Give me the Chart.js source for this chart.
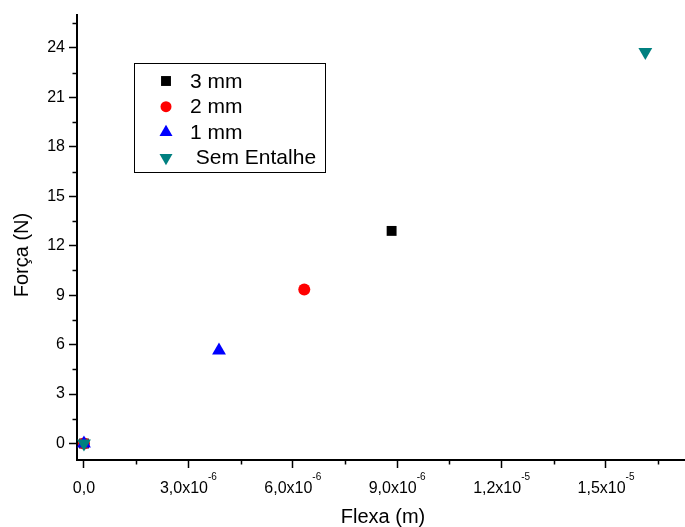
<!DOCTYPE html>
<html><head><meta charset="utf-8">
<script src="https://cdn.jsdelivr.net/npm/chart.js@4"></script>
<style>html,body{margin:0;padding:0;background:#fff;overflow:hidden}</style>
</head><body>
<canvas id="c" width="685" height="527"></canvas>
<script>
// ---- data ----
const seriesNames = ['3 mm', '2 mm', '1 mm', ' Sem Entalhe'];
const flexa3mm = [0, 8.84e-6];
const forca3mm = [0, 12.9];
const flexa2mm = [0, 6.33e-6];
const forca2mm = [0, 9.35];
const flexa1mm = [0, 3.88e-6];
const forca1mm = [0, 5.65];
const flexaSem = [0, 16.13e-6];
const forcaSem = [0, 23.75];
const xTickValues = [0, 3e-6, 6e-6, 9e-6, 1.2e-5, 1.5e-5];
const xTickLabels = ['0,0', '3,0x10', '6,0x10', '9,0x10', '1,2x10', '1,5x10'];
const xTickExponents = ['', '-6', '-6', '-6', '-5', '-5'];
const xMinorTicks = [1.5e-6, 4.5e-6, 7.5e-6, 1.05e-5, 1.35e-5, 1.65e-5];
const yTickValues = [0, 3, 6, 9, 12, 15, 18, 21, 24];
const yTickLabels = ['0', '3', '6', '9', '12', '15', '18', '21', '24'];
const yMinorTicks = [1.5, 4.5, 7.5, 10.5, 13.5, 16.5, 19.5, 22.5, 25.5];
const xTitle = 'Flexa (m)';
const yTitle = 'Força (N)';

const FONT = '"Liberation Sans", Arial, Helvetica, sans-serif';
Chart.defaults.font.family = FONT;
Chart.defaults.color = '#000';

function pts(xs, ys) { return xs.map((x, i) => ({ x: x, y: ys[i] })); }

const styles = [
  { color: '#000000', pointStyle: 'rect', radius: 7, rotation: 0, legendRadius: 7 },
  { color: '#FF0000', pointStyle: 'circle', radius: 6, rotation: 0, legendRadius: 5.5 },
  { color: '#0000FF', pointStyle: 'triangle', radius: 8, rotation: 0, legendRadius: 7.5 },
  { color: '#008080', pointStyle: 'triangle', radius: 8, rotation: 180, legendRadius: 7.5 }
];
const seriesData = [pts(flexa3mm, forca3mm), pts(flexa2mm, forca2mm), pts(flexa1mm, forca1mm), pts(flexaSem, forcaSem)];

const datasets = seriesData.map((d, i) => ({
  label: seriesNames[i],
  data: d,
  showLine: false,
  pointStyle: styles[i].pointStyle,
  pointRadius: styles[i].radius,
  pointRotation: styles[i].rotation,
  pointBackgroundColor: styles[i].color,
  pointBorderColor: styles[i].color,
  pointBorderWidth: 0,
  pointHoverRadius: styles[i].radius,
  backgroundColor: styles[i].color,
  borderColor: styles[i].color,
  clip: false,
  order: 3 - i
}));

const extras = {
  id: 'extras',
  afterDraw(chart) {
    const ctx = chart.ctx;
    const xs = chart.scales.x, ys = chart.scales.y;
    const ca = chart.chartArea;
    ctx.save();
    // minor ticks
    ctx.strokeStyle = '#000';
    ctx.lineWidth = 1.5;
    ctx.beginPath();
    yMinorTicks.forEach(v => {
      const p = Math.round(ys.getPixelForValue(v)) + 0.5;
      ctx.moveTo(ca.left - 4.5, p); ctx.lineTo(ca.left, p);
    });
    xMinorTicks.forEach(v => {
      const p = Math.round(xs.getPixelForValue(v)) + 0.5;
      ctx.moveTo(p, ca.bottom); ctx.lineTo(p, ca.bottom + 4.5);
    });
    ctx.stroke();
    // x tick labels with raised exponents
    ctx.fillStyle = '#000';
    ctx.textBaseline = 'alphabetic';
    ctx.textAlign = 'left';
    xTickValues.forEach((v, i) => {
      const px = xs.getPixelForValue(v);
      ctx.font = '16px ' + FONT;
      const wm = ctx.measureText(xTickLabels[i]).width;
      ctx.font = '10px ' + FONT;
      const we = xTickExponents[i] ? ctx.measureText(xTickExponents[i]).width : 0;
      const x0 = px - (wm + we) / 2;
      ctx.font = '16px ' + FONT;
      ctx.fillText(xTickLabels[i], x0, 493);
      if (xTickExponents[i]) {
        ctx.font = '10px ' + FONT;
        ctx.fillText(xTickExponents[i], x0 + wm, 480);
      }
    });
    // axis titles
    ctx.font = '20px ' + FONT;
    ctx.textAlign = 'center';
    ctx.textBaseline = 'middle';
    ctx.fillText(xTitle, 383, 517);
    ctx.translate(22, 255);
    ctx.rotate(-Math.PI / 2);
    ctx.fillText(yTitle, 0, 0);
    ctx.restore();

    // legend box
    ctx.save();
    ctx.strokeStyle = '#000';
    ctx.lineWidth = 1;
    ctx.strokeRect(134.5, 63.5, 191, 109);
    const rowsY = [81, 106.7, 132.3, 157.7];
    ctx.font = '21px ' + FONT;
    ctx.textAlign = 'left';
    ctx.textBaseline = 'middle';
    chart.data.datasets.forEach((ds, i) => {
      ctx.fillStyle = styles[i].color;
      ctx.strokeStyle = styles[i].color;
      Chart.helpers.drawPoint(ctx, { pointStyle: styles[i].pointStyle, radius: styles[i].legendRadius, rotation: styles[i].rotation, borderWidth: 0 }, 166, rowsY[i]);
      ctx.fillStyle = '#000';
      ctx.fillText(ds.label, 190, rowsY[i] + 1);
    });
    ctx.restore();
  }
};

new Chart(document.getElementById('c'), {
  type: 'scatter',
  data: { datasets: datasets },
  options: {
    responsive: false,
    animation: false,
    devicePixelRatio: 1,
    layout: { autoPadding: false, padding: { top: 15, right: 0, left: 0, bottom: 0 } },
    plugins: { legend: { display: false }, tooltip: { enabled: false } },
    scales: {
      x: {
        type: 'linear',
        min: -2.0e-7,
        max: 1.727e-5,
        afterFit(s) { s.height = 67; s.paddingLeft = 0; s.paddingRight = 0; },
        afterBuildTicks(s) { s.ticks = xTickValues.map(v => ({ value: v })); },
        ticks: { display: false, autoSkip: false },
        grid: { display: true, drawOnChartArea: false, drawTicks: true, tickLength: 8, color: '#000', tickWidth: 1.5 },
        border: { display: true, color: '#000', width: 2 }
      },
      y: {
        type: 'linear',
        min: -1,
        max: 26,
        afterFit(s) { s.width = 77; s.paddingTop = 0; s.paddingBottom = 0; },
        afterBuildTicks(s) { s.ticks = yTickValues.map(v => ({ value: v })); },
        ticks: {
          callback: (v, i) => yTickLabels[i],
          font: { size: 16 },
          color: '#000',
          padding: 4,
          autoSkip: false
        },
        grid: { display: true, drawOnChartArea: false, drawTicks: true, tickLength: 8, color: '#000', tickWidth: 1.5 },
        border: { display: true, color: '#000', width: 2 }
      }
    }
  },
  plugins: [extras]
});
</script>
</body></html>
